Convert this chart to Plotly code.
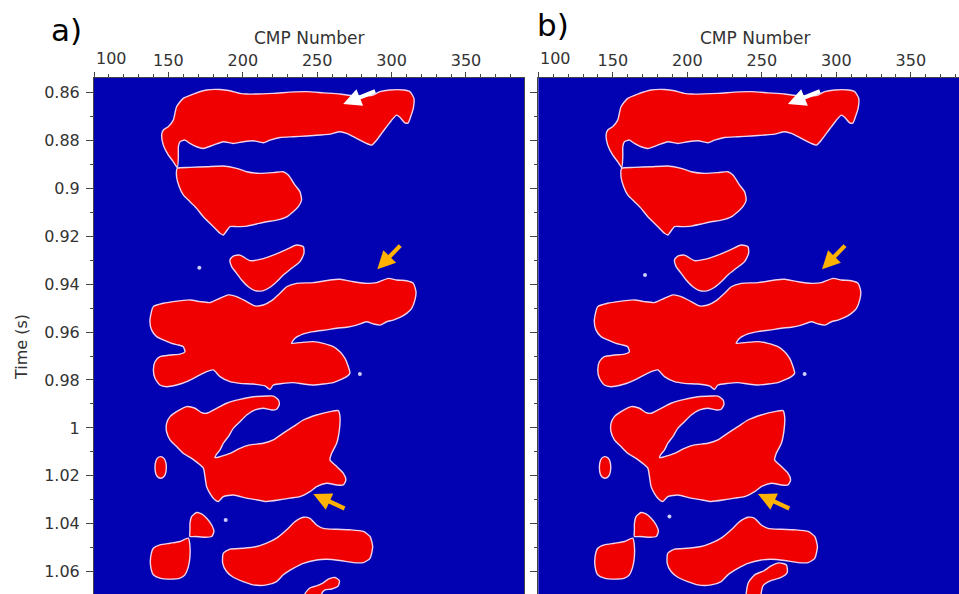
import plotly.graph_objects as go

# ---------------- axis ticks ----------------
cmp_ticks = [100, 150, 200, 250, 300, 350]
cmp_labels = ["", "150", "200", "250", "300", "350"]
time_ticks = [0.86, 0.88, 0.90, 0.92, 0.94, 0.96, 0.98, 1.00, 1.02, 1.04, 1.06]
time_labels = ["0.86", "0.88", "0.9", "0.92", "0.94", "0.96", "0.98", "1", "1.02", "1.04", "1.06"]

# ---------------- red anomaly outlines (CMP, time in s) ----------------
top_cmp = [155.5, 160.0, 166.7, 175.7, 184.7, 191.4, 198.1, 202.6, 220.5, 231.7, 242.9, 254.1, 265.3, 269.8,
           278.7, 287.7, 292.2, 298.9, 307.9, 312.3, 315.0, 314.6, 312.8, 311.2, 309.0, 305.6, 303.4, 300.0,
           296.7, 293.3, 290.0, 286.6, 283.2, 278.7, 274.3, 269.8, 265.3, 258.6, 251.9, 242.9, 233.9, 225.0,
           218.3, 213.8, 207.1, 200.3, 193.6, 186.9, 180.2, 173.5, 169.0, 164.5, 161.1, 157.8, 156.7, 156.7,
           156.0, 153.3, 149.9, 146.6, 145.5, 146.6, 149.9, 153.3]
top_t = [0.8660, 0.8625, 0.8607, 0.8590, 0.8588, 0.8593, 0.8604, 0.8607, 0.8604, 0.8599, 0.8597, 0.8602, 0.8607,
         0.8611, 0.8615, 0.8611, 0.8597, 0.8590, 0.8590, 0.8597, 0.8625, 0.8667, 0.8702, 0.8727, 0.8727, 0.8704,
         0.8695, 0.8716, 0.8743, 0.8771, 0.8799, 0.8820, 0.8813, 0.8799, 0.8785, 0.8771, 0.8764, 0.8774, 0.8778,
         0.8782, 0.8785, 0.8788, 0.8799, 0.8810, 0.8802, 0.8806, 0.8813, 0.8806, 0.8820, 0.8834, 0.8827, 0.8813,
         0.8799, 0.8806, 0.8827, 0.8868, 0.8913, 0.8889, 0.8861, 0.8820, 0.8778, 0.8757, 0.8743, 0.8716]

upper_cmp = [156.0, 164.5, 175.7, 186.9, 195.9, 202.6, 211.5, 220.5, 227.2, 230.6, 235.1, 238.4, 239.5, 237.3,
             233.9, 229.5, 222.7, 216.0, 209.3, 202.6, 195.9, 191.4, 186.9, 184.7, 181.3, 177.9, 173.5, 169.0,
             164.5, 160.0, 157.3, 155.5]
upper_t = [0.8917, 0.8913, 0.8910, 0.8907, 0.8917, 0.8931, 0.8938, 0.8935, 0.8931, 0.8945, 0.8987, 0.9014,
           0.9049, 0.9077, 0.9098, 0.9119, 0.9133, 0.9140, 0.9149, 0.9158, 0.9160, 0.9160, 0.9195, 0.9188,
           0.9167, 0.9146, 0.9119, 0.9084, 0.9056, 0.9028, 0.8994, 0.8952]

small_cmp = [191.4, 193.6, 198.1, 204.8, 211.5, 220.5, 229.5, 236.2, 240.7, 241.1, 238.4, 232.8, 227.2, 222.7,
             218.3, 213.8, 208.2, 203.7, 199.2, 195.9, 192.5]
small_t = [0.9299, 0.9283, 0.9279, 0.9302, 0.9297, 0.9279, 0.9255, 0.9237, 0.9244, 0.9272, 0.9306, 0.9334,
           0.9362, 0.9390, 0.9413, 0.9427, 0.9427, 0.9411, 0.9383, 0.9355, 0.9327]

big_cmp = [139.9, 146.6, 153.3, 164.5, 171.2, 177.9, 184.7, 190.3, 195.9, 202.6, 208.2, 213.8, 219.4, 225.0,
           229.5, 236.2, 247.4, 258.6, 265.3, 274.3, 283.2, 290.0, 297.8, 303.4, 310.1, 314.6, 316.4, 315.7,
           313.5, 310.1, 305.6, 301.1, 296.7, 292.2, 287.7, 283.2, 276.5, 269.8, 263.1, 256.3, 247.4, 240.7,
           235.1, 232.8, 238.4, 247.4, 254.1, 260.8, 265.3, 268.7, 270.9, 272.0, 269.8, 265.3, 260.8, 254.1,
           247.4, 240.7, 233.9, 227.2, 220.5, 218.3, 214.9, 207.1, 198.1, 191.4, 184.7, 180.2, 175.7, 169.0,
           162.3, 155.5, 148.8, 144.3, 141.0, 139.9, 141.0, 144.3, 151.1, 157.8, 161.1, 160.0, 156.7, 152.2,
           146.6, 142.1, 138.7, 137.6]
big_t = [0.9494, 0.9480, 0.9473, 0.9466, 0.9473, 0.9477, 0.9459, 0.9445, 0.9452, 0.9473, 0.9491, 0.9487,
         0.9469, 0.9438, 0.9411, 0.9397, 0.9394, 0.9383, 0.9380, 0.9390, 0.9397, 0.9394, 0.9376, 0.9383,
         0.9386, 0.9397, 0.9432, 0.9466, 0.9501, 0.9522, 0.9539, 0.9550, 0.9557, 0.9571, 0.9566, 0.9557,
         0.9571, 0.9580, 0.9584, 0.9591, 0.9598, 0.9608, 0.9626, 0.9647, 0.9644, 0.9640, 0.9647, 0.9661,
         0.9682, 0.9710, 0.9744, 0.9772, 0.9786, 0.9800, 0.9811, 0.9817, 0.9821, 0.9817, 0.9811, 0.9814,
         0.9821, 0.9839, 0.9825, 0.9817, 0.9814, 0.9807, 0.9786, 0.9758, 0.9765, 0.9786, 0.9807, 0.9821,
         0.9828, 0.9821, 0.9793, 0.9758, 0.9724, 0.9703, 0.9696, 0.9692, 0.9682, 0.9661, 0.9654, 0.9647,
         0.9633, 0.9619, 0.9591, 0.9550]

mid_cmp = [148.8, 151.1, 155.5, 162.3, 167.9, 172.3, 175.7, 182.4, 189.1, 198.1, 207.1, 216.0, 220.5, 223.9,
           224.5, 222.7, 219.4, 213.8, 208.2, 202.6, 198.1, 193.6, 190.3, 186.9, 184.7, 182.0, 181.3, 184.7,
           191.4, 198.1, 204.8, 213.8, 220.5, 227.2, 233.9, 240.7, 249.6, 258.6, 264.2, 265.3, 264.9, 263.1,
           259.7, 258.6, 263.1, 267.5, 269.3, 267.5, 263.1, 256.3, 249.6, 245.1, 238.4, 231.7, 225.0, 216.0,
           209.3, 202.6, 193.6, 186.9, 183.5, 180.2, 177.9, 175.7, 174.6, 173.5, 170.1, 165.6, 160.0, 155.5,
           151.1, 148.8]
mid_t = [0.9981, 0.9953, 0.9932, 0.9911, 0.9918, 0.9936, 0.9939, 0.9918, 0.9897, 0.9881, 0.9870, 0.9867,
         0.9867, 0.9883, 0.9904, 0.9922, 0.9925, 0.9918, 0.9925, 0.9946, 0.9974, 1.0002, 1.0036, 1.0064,
         1.0092, 1.0113, 1.0124, 1.0120, 1.0106, 1.0085, 1.0071, 1.0064, 1.0050, 1.0022, 0.9995, 0.9967,
         0.9946, 0.9932, 0.9928, 0.9953, 1.0009, 1.0064, 1.0106, 1.0134, 1.0161, 1.0189, 1.0217, 1.0238,
         1.0238, 1.0231, 1.0245, 1.0266, 1.0287, 1.0293, 1.0300, 1.0307, 1.0300, 1.0293, 1.0280, 1.0287,
         1.0307, 1.0293, 1.0273, 1.0245, 1.0203, 1.0168, 1.0148, 1.0127, 1.0106, 1.0078, 1.0050, 1.0016]

oval_cmp = [144.8, 147.0, 148.4, 148.4, 147.0, 144.8, 142.5, 141.2, 141.2, 142.5]
oval_t = [1.0120, 1.0127, 1.0148, 1.0182, 1.0203, 1.0210, 1.0203, 1.0182, 1.0148, 1.0127]

knob_cmp = [165.6, 169.0, 172.3, 175.7, 179.1, 180.6, 179.1, 174.6, 167.9, 164.5, 164.5, 164.5]
knob_t = [1.0370, 1.0353, 1.0359, 1.0377, 1.0405, 1.0432, 1.0453, 1.0456, 1.0453, 1.0453, 1.0425, 1.0398]

left_cmp = [163.4, 164.5, 164.5, 163.4, 161.1, 157.8, 151.1, 144.3, 139.9, 138.1, 138.1, 139.9, 144.3, 151.1, 157.8]
left_t = [1.0460, 1.0495, 1.0537, 1.0579, 1.0613, 1.0627, 1.0631, 1.0627, 1.0613, 1.0579, 1.0537, 1.0502,
          1.0488, 1.0481, 1.0474]

low_cmp = [186.9, 191.4, 200.3, 209.3, 216.0, 222.7, 229.5, 235.1, 240.7, 245.1, 249.6, 254.1, 263.1, 272.0,
           281.0, 285.5, 287.3, 285.5, 281.0, 274.3, 265.3, 256.3, 249.6, 240.7, 233.9, 227.2, 222.7, 216.0,
           207.1, 200.3, 193.6, 189.1, 186.5]
low_t = [1.0523, 1.0506, 1.0502, 1.0495, 1.0481, 1.0460, 1.0425, 1.0391, 1.0373, 1.0377, 1.0405, 1.0419,
         1.0423, 1.0425, 1.0432, 1.0453, 1.0495, 1.0544, 1.0562, 1.0562, 1.0553, 1.0548, 1.0551, 1.0565,
         1.0586, 1.0613, 1.0641, 1.0655, 1.0655, 1.0641, 1.0623, 1.0599, 1.0565]

# bottom blob cut by the frame: panel a and panel b versions
edge_a_cmp = [241.8, 245.1, 249.6, 253.7, 257.5, 261.9, 264.9, 264.2, 259.7, 255.2, 253.0, 253.0, 241.8]
edge_a_t = [1.0692, 1.0668, 1.0659, 1.0648, 1.0631, 1.0624, 1.0637, 1.0659, 1.0672, 1.0676, 1.0692, 1.0730, 1.0730]
edge_b_cmp = [239.5, 241.0, 245.4, 251.5, 256.2, 261.5, 266.5, 267.0, 262.2, 256.0, 251.0, 249.5, 249.5, 239.5]
edge_b_t = [1.0693, 1.0645, 1.0612, 1.0596, 1.0576, 1.0563, 1.0572, 1.0604, 1.0626, 1.0637, 1.0657, 1.0693,
            1.0730, 1.0730]

# small bright specks
speck_a_cmp = [170.8, 278.7, 188.5]
speck_a_t = [0.9332, 0.9775, 1.0384]
speck_b_cmp = [171.6, 278.7, 188.0]
speck_b_t = [0.9362, 0.9775, 1.0370]

# arrows: (head CMP, head t, tail CMP, tail t)
white_arrow = [267.5, 0.8649, 290.0, 0.8593]
orange_arrow_1 = [290.4, 0.9338, 306.8, 0.9233]
orange_arrow_2 = [247.4, 1.0276, 269.4, 1.0339]

shared = [(top_cmp, top_t), (upper_cmp, upper_t), (small_cmp, small_t), (big_cmp, big_t),
          (mid_cmp, mid_t), (oval_cmp, oval_t), (knob_cmp, knob_t), (left_cmp, left_t),
          (low_cmp, low_t)]
panels = [("x", "y", shared + [(edge_a_cmp, edge_a_t)], speck_a_cmp, speck_a_t),
          ("x2", "y2", shared + [(edge_b_cmp, edge_b_t)], speck_b_cmp, speck_b_t)]

RED = "rgb(240,0,0)"
BLUE = "rgb(2,2,178)"
EDGE = "rgb(240,210,232)"
AXC = "#444444"
TXT = "#333333"
FONT = "DejaVu Sans, Arial, sans-serif"

fig = go.Figure()
for xa, ya, blobs, scx, sct in panels:
    for cx, ty in blobs:
        fig.add_trace(go.Scatter(x=cx + [cx[0]], y=ty + [ty[0]], mode="lines", fill="toself",
                                 fillcolor=RED, line=dict(color=EDGE, width=1.4, shape="spline", smoothing=0.6),
                                 xaxis=xa, yaxis=ya, hoverinfo="skip", showlegend=False))
    fig.add_trace(go.Scatter(x=scx, y=sct, mode="markers",
                             marker=dict(color="rgb(205,205,250)", size=4), xaxis=xa, yaxis=ya,
                             hoverinfo="skip", showlegend=False))

top = 1 - 78 / 594
x_common = dict(side="top", ticks="outside", ticklen=5, tickcolor=AXC, tickvals=cmp_ticks, ticktext=cmp_labels,
                tickfont=dict(size=16, color=TXT, family=FONT), showline=True, linecolor=AXC, linewidth=1,
                mirror=True, showgrid=False, zeroline=False, automargin=False,
                minor=dict(ticks="outside", ticklen=3, dtick=10, tick0=100, tickcolor=AXC))
y_common = dict(range=[1.0693, 0.8540], domain=[0, top], ticks="outside", ticklen=7, tickcolor=AXC,
                tickvals=time_ticks, ticktext=time_labels, tickfont=dict(size=16, color=TXT, family=FONT),
                showline=True, linecolor=AXC, linewidth=1, showgrid=False, zeroline=False, automargin=False,
                ticklabelstandoff=3,
                minor=dict(ticks="outside", ticklen=3.5, dtick=0.01, tick0=0.86, tickcolor=AXC))

fig.update_layout(
    width=959, height=594, margin=dict(l=0, r=0, t=0, b=0, autoexpand=False),
    paper_bgcolor="white", plot_bgcolor=BLUE,
    xaxis=dict(domain=[94 / 959, 524 / 959], range=[100, 389], anchor="y", **x_common),
    yaxis=dict(anchor="x", mirror=True, **y_common),
    xaxis2=dict(domain=[538.3 / 959, 1.0], range=[100, 382.3], anchor="y2", **x_common),
    yaxis2=dict(anchor="x2", mirror=False, showticklabels=False, **y_common),
)

ann = []
for xr, yr, cx in (("x", "y", 309), ("x2", "y2", 755)):
    for arr, col in ((white_arrow, "white"), (orange_arrow_1, "rgb(255,178,0)"), (orange_arrow_2, "rgb(255,178,0)")):
        ann.append(dict(x=arr[0], y=arr[1], ax=arr[2], ay=arr[3], xref=xr, yref=yr, axref=xr, ayref=yr,
                        text="", showarrow=True, arrowhead=2, arrowsize=0.85, arrowwidth=4.2, arrowcolor=col,
                        standoff=0))
    # "100" label sits inside the edge as in the original
    ann.append(dict(x=100, y=top, xref=xr, yref="paper", xshift=17.5, yshift=8, xanchor="center",
                    yanchor="bottom", text="100", showarrow=False, font=dict(size=16, color=TXT, family=FONT)))
    ann.append(dict(x=cx / 959, y=1 - 38 / 594, xref="paper", yref="paper", xanchor="center", yanchor="middle",
                    text="CMP Number", showarrow=False, font=dict(size=17, color=TXT, family=FONT)))

ann.append(dict(x=66 / 959, y=1 - 30 / 594, xref="paper", yref="paper", xanchor="center", yanchor="middle",
                text="a)", showarrow=False, font=dict(size=31, color="black", family=FONT)))
ann.append(dict(x=553 / 959, y=1 - 25 / 594, xref="paper", yref="paper", xanchor="center", yanchor="middle",
                text="b)", showarrow=False, font=dict(size=31, color="black", family=FONT)))
ann.append(dict(x=22 / 959, y=1 - 347 / 594, xref="paper", yref="paper", xanchor="center", yanchor="middle",
                text="Time (s)", textangle=-90, showarrow=False, font=dict(size=16, color=TXT, family=FONT)))
fig.update_layout(annotations=ann)

fig.write_html("out.html", config={"displayModeBar": False},
               post_script="document.body.style.margin='0px';")
